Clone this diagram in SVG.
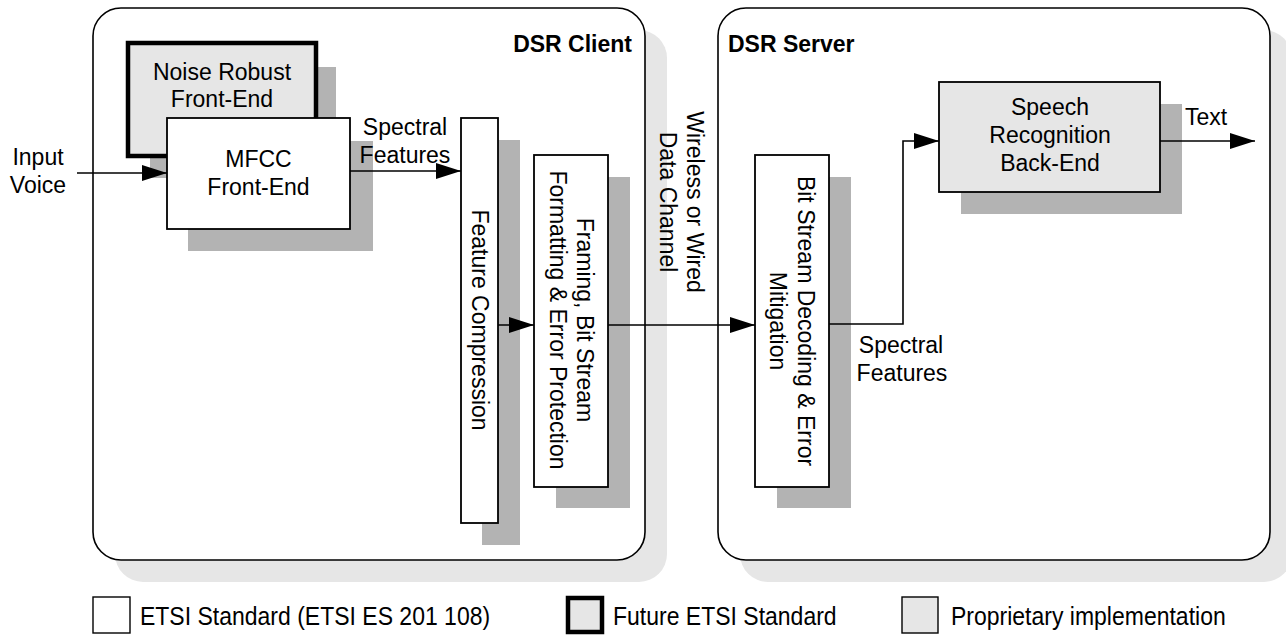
<svg xmlns="http://www.w3.org/2000/svg" width="1286" height="635" viewBox="0 0 1286 635">
<defs>
<style>
text{font-family:"Liberation Sans",Arial,sans-serif;font-size:23px;fill:#000}
.b{font-weight:bold}
.m{text-anchor:middle}
.cont{fill:#fff;stroke:#000;stroke-width:1.6}
.cshadow{fill:#e6e6e6}
.shadow{fill:#b3b3b3}
.box{fill:#fff;stroke:#000;stroke-width:1.8}
.prop{fill:#e6e6e6;stroke:#000;stroke-width:1.8}
.fut{fill:#e6e6e6;stroke:#000;stroke-width:4.5}
.line{fill:none;stroke:#000;stroke-width:1.6}
</style>
<marker id="arr" markerUnits="userSpaceOnUse" markerWidth="26" markerHeight="16" refX="25" refY="8" orient="auto">
<path d="M0,0 L25,8 L0,16 z" fill="#000"/>
</marker>
</defs>

<g id="dsr-client">
<rect class="cshadow" x="115" y="30" width="552" height="552" rx="28"/>
<rect class="cont" x="93" y="8" width="552" height="552" rx="28"/>
<text class="b" x="632" y="52" text-anchor="end">DSR Client</text>
</g>

<g id="dsr-server">
<rect class="cshadow" x="740" y="30" width="552" height="552" rx="28"/>
<rect class="cont" x="718" y="8" width="552" height="552" rx="28"/>
<text class="b" x="728" y="52">DSR Server</text>
</g>

<g id="noise-robust">
<rect class="shadow" x="150" y="67" width="186" height="111"/>
<rect class="fut" x="128" y="43" width="188" height="113"/>
<text class="m" x="222" y="80">Noise Robust</text>
<text class="m" x="222" y="107">Front-End</text>
</g>

<g id="mfcc">
<rect class="shadow" x="188" y="141" width="185" height="110"/>
<rect class="box" x="167" y="118" width="183" height="111"/>
<text class="m" x="258.5" y="167">MFCC</text>
<text class="m" x="258.5" y="195">Front-End</text>
</g>

<g id="feature-compression">
<rect class="shadow" x="482" y="140" width="38" height="405"/>
<rect class="box" x="461" y="118" width="37" height="405"/>
<text class="m" transform="translate(480,320) rotate(90)" y="8">Feature Compression</text>
</g>

<g id="framing">
<rect class="shadow" x="556" y="177" width="74" height="331"/>
<rect class="box" x="534" y="155" width="74" height="332"/>
<text class="m" transform="translate(585,320) rotate(90)" y="8">Framing, Bit Stream</text>
<text class="m" transform="translate(558,320) rotate(90)" y="8">Formatting &amp; Error Protection</text>
</g>

<g id="bit-stream-decoding">
<rect class="shadow" x="777" y="177" width="74" height="331"/>
<rect class="box" x="755" y="155" width="74" height="332"/>
<text class="m" transform="translate(806,321) rotate(90)" y="8">Bit Stream Decoding &amp; Error</text>
<text class="m" transform="translate(778,321) rotate(90)" y="8">Mitigation</text>
</g>

<g id="speech-recognition">
<rect class="shadow" x="961" y="104" width="221" height="110"/>
<rect class="prop" x="939" y="82" width="221" height="110"/>
<text class="m" x="1050" y="115">Speech</text>
<text class="m" x="1050" y="143">Recognition</text>
<text class="m" x="1050" y="171">Back-End</text>
</g>

<g id="connectors">
<line class="line" x1="77" y1="173" x2="167" y2="173" marker-end="url(#arr)"/>
<line class="line" x1="350" y1="171" x2="461" y2="171" marker-end="url(#arr)"/>
<line class="line" x1="498" y1="325" x2="534" y2="325" marker-end="url(#arr)"/>
<line class="line" x1="608" y1="325" x2="755" y2="325" marker-end="url(#arr)"/>
<polyline class="line" points="829,324 903,324 903,141 939,141" marker-end="url(#arr)"/>
<line class="line" x1="1160" y1="141" x2="1255" y2="141" marker-end="url(#arr)"/>
</g>

<g id="labels">
<text class="m" x="38" y="165">Input</text>
<text class="m" x="38" y="193">Voice</text>
<text class="m" x="405" y="135">Spectral</text>
<text class="m" x="405" y="163">Features</text>
<text class="m" transform="translate(695,202) rotate(90)" y="8">Wireless or Wired</text>
<text class="m" transform="translate(668,202) rotate(90)" y="8">Data Channel</text>
<text class="m" x="901" y="353">Spectral</text>
<text class="m" x="902" y="381">Features</text>
<text x="1185" y="125">Text</text>
</g>

<g id="legend">
<rect class="box" x="93" y="597" width="37" height="36" style="stroke-width:1.4"/>
<text transform="translate(140,625) scale(1,1.12)">ETSI Standard (ETSI ES 201 108)</text>
<rect class="fut" x="568" y="598" width="34" height="34"/>
<text transform="translate(613,625) scale(1,1.12)">Future ETSI Standard</text>
<rect class="prop" x="902" y="597" width="36" height="36" style="stroke-width:1.4"/>
<text transform="translate(951,625) scale(1,1.12)">Proprietary implementation</text>
</g>
</svg>
